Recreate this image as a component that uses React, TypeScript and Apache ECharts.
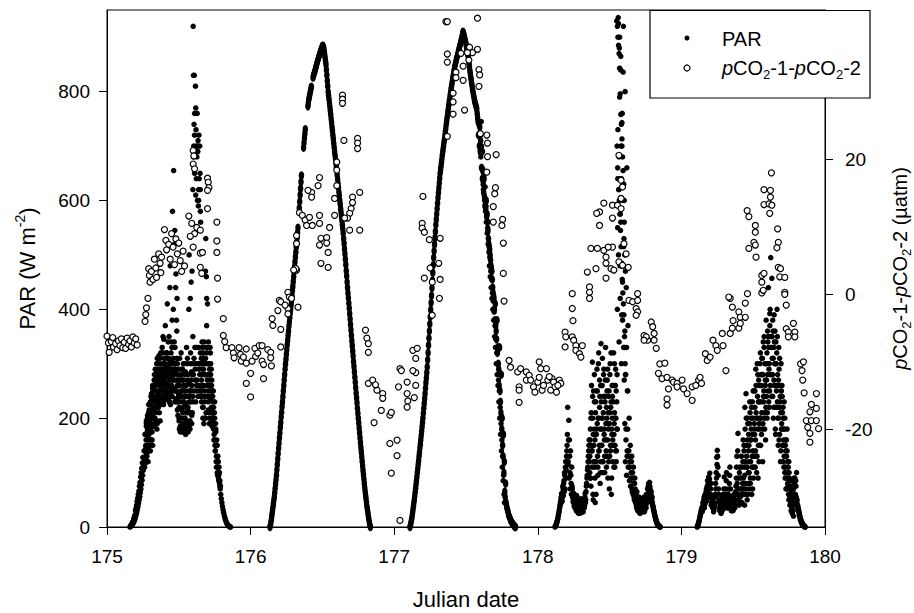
import React, { useEffect, useRef } from 'react';
import * as echarts from 'echarts';

const FONT = '"Liberation Sans", Arial, Helvetica, sans-serif';

const xTicks = [175, 176, 177, 178, 179, 180];
const parTicks = [0, 200, 400, 600, 800];
const pco2Ticks = [-20, 0, 20];

// PAR samples on regular time grids (start day, step in days); null = no reading (gap in record)
const par175aStart = 175.16; const par175aStep = 0.004;
const par175a = [
  0,1,2,3,5,6,8,10,13,16,20,24,28,33,38,44,50,56,63,70,78,86,95,104,112,120,
  140,118,160,135,175,150,195,170,210,185,225,160,235,200,250,215,270,230,
  290,220,265,180,300,245,275,210,310,260,
  290,235,330,270,250,345,300,240,285,320,260,410,295,235,350,275,480,305,250,330,580,270,
  655,340,545,300,465,380,420,260,
  230,290,180,270,200,320,175,250,210,300,185,240,280,170,260,195,310,220,180,500,250,420,190,285,470,230,
  920,700,830,330,810,730,260,760,690,590,720,300,650,560,
  310,250,330,200,290,340,230,280,530,460,320,410,250,300,190,270,320,215,260,185,240,
  250,180,210,150,190,120,160,100,130,90,110,80,70,
  60,52,45,38,32,27,22,18,14,11,8,6,4,3,2,1,0,0
];
const par175bStart = 175.262; const par175bStep = 0.004;
const par175b = [
  110,170,130,195,145,180,120,210,160,190,140,225,175,205,150,240,185,220,
  200,260,235,300,190,280,225,315,250,195,
  320,250,280,230,350,265,300,245,370,275,235,310,260,340,290,230,440,270,320,250,380,300,
  400,280,520,330,440,250,360,300,270,
  260,200,310,175,240,290,185,270,220,175,300,200,250,180,330,210,270,175,400,240,195,300,450,260,210,620,
  830,740,650,290,770,700,680,600,710,330,640,280,580,250,
  280,340,220,310,260,300,200,470,330,420,280,240,340,210,290,250,300,200,270,210,230,
  200,160,230,140,180,110,150,95,120,85,100,75
];
const par175cStart = 175.166; const par175cStep = 0.004;
const par175c = [
  3,4,6,9,11,15,18,22,30,34,40,47,53,60,66,75,82,92,100,108,118,128,110,140,125,
  170,145,190,130,205,160,180,215,150,230,190,245,175,260,220,200,280,240,
  250,210,285,230,270,300,240,265,225,290,
  260,300,240,280,225,310,270,250,295,235,320,265,245,300,280,230,290,260,340,250,285,310,
  270,300,230,290,250,310,215,280,240,
  195,230,270,185,250,215,290,175,260,230,200,285,180,240,300,210,190,265,230,180,320,250,205,280,350,
  680,310,720,270,610,330,250,690,300,620,260,700,320,240,
  230,300,260,320,190,280,240,310,210,370,260,300,230,280,200,330,240,290,210,250,200,
  220,170,200,140,175,130,150,110,120,95,100,85,75
];
const par175dStart = 175.27; const par175dStep = 0.004;
const par175d = [
  150,185,120,200,165,225,140,210,180,240,200,160,255,215,235,190,270,
  230,275,195,310,250,220,290,260,235,280,
  240,290,255,320,230,275,300,250,265,235,290,280,240,310,255,275,225,300,260,240,290,255,
  300,250,285,235,270,230,260,205,245,
  220,260,185,240,280,200,230,190,270,250,175,225,260,195,240,215,280,185,250,230,210,270,190,300,240,
  280,250,760,300,230,640,270,700,240,600,290,250,620,300,
  270,240,290,220,310,250,280,200,300,240,270,330,215,260,300,235,280,220,250,195,210,
  180,160,190
];
const par176Start = 176.135; const par176Step = 0.003;
const par176 = [
  0,3,8,13,19,25,31,37,43,49,55,63,71,79,87,95,105,115,125,135,145,
  154,164,173,183,192,202,211,221,230,240,250,260,270,280,290,
  299,308,317,326,335,343,352,360,369,377,385,393,400,408,416,
  425,434,442,451,460,469,478,487,496,505,514,523,532,541,550,
  null,null,586,598,610,622,634,646,null,null,null,null,697,706,715,
  723,731,null,null,null,null,null,773,779,785,789,793,797,801,805,
  809,null,null,null,826,829,832,834,837,840,843,846,849,852,855,
  858,860,863,865,868,870,873,875,878,880,882,884,884,882,880,
  874,868,862,856,850,840,830,820,810,800,793,786,779,772,765,
  758,750,743,735,728,720,713,705,698,690,683,676,669,662,655,
  647,639,631,623,615,608,600,593,585,578,570,563,555,548,540,
  530,521,511,502,492,482,471,461,450,440,430,421,411,402,392,
  382,372,362,352,342,333,323,314,304,295,285,275,266,256,246,
  237,228,218,209,200,191,182,173,164,155,146,138,129,121,112,
  104,96,88,80,72,65,58,52,45,38,33,28,22,17,12,7,3,0
];
const par177Start = 177.11; const par177Step = 0.003;
const par177 = [
  0,3,7,11,15,20,26,32,38,44,50,57,64,71,78,85,92,100,107,115,122,
  130,137,145,152,160,168,176,184,192,200,209,218,227,236,245,
  255,265,274,284,294,307,320,334,347,360,373,386,399,412,425,
  439,453,467,481,495,507,519,531,543,555,565,575,585,595,605,
  614,623,632,641,650,657,663,670,676,683,689,695,701,707,713,
  719,726,732,739,745,751,757,763,769,775,781,786,792,797,803,
  808,813,818,823,828,832,837,841,846,850,853,856,860,863,866,
  869,872,876,879,882,885,888,892,895,898,902,906,910,908,905,
  902,898,895,891,888,883,879,874,870,865,859,852,846,839,833,
  827,822,816,811,805,801,796,792,787,783,780,777,774,771,768,
  760,752,745,720,740,700,735,690,710,690,660,690,640,655,630,
  615,640,605,590,600,585,600,570,575,560,545,530,520,515,510,
  500,490,480,475,470,455,440,430,425,420,400,380,410,370,360,
  345,380,320,330,300,290,260,330,250,230,210,280,180,200,150,
  130,170,100,120,65,55,80,45,40,35,32,30,26,22,20,
  18,16,14,12,10,9,8,6,5,4,3,2,1,0,0
];
const par177bStart = 177.6; const par177bStep = 0.003;
const par177b = [
  720,680,745,700,660,690,640,620,650,610,
  600,625,580,590,560,575,540,550,520,530,
  505,480,495,460,470,440,455,420,430,400,
  415,380,395,350,370,330,345,300,320,280,
  300,260,270,230,250,200,220,170,190,140,
  160,110,130,85,95,60,45
];
const par178aStart = 178.12; const par178aStep = 0.004;
const par178a = [
  0,2,5,8,12,16,22,28,35,42,
  50,45,60,55,70,80,65,95,110,90,
  130,150,220,120,196,160,100,140,80,110,
  70,60,45,55,40,35,50,30,45,28,
  40,25,35,30,48,26,38,32,50,28,
  42,35,55,45,65,80,95,110,130,150,
  120,160,90,210,140,303,60,250,180,110,
  45,230,170,290,130,200,320,150,240,100,
  337,180,260,120,210,290,160,230,330,140,
  200,270,90,180,250,130,300,220,60,170,
  240,150,320,190,110,260,200,140,280,550,
  936,620,880,480,840,700,390,760,600,920,
  530,330,800,280,440,660,250,370,130,200,
  110,150,90,120,70,100,60,80,50,90,
  45,60,35,50,30,40,28,45,25,35,
  30,45,28,40,35,55,30,50,40,60,
  45,70,55,80,65,75,50,60,45,55,
  40,35,30,25,20,16,12,9,6,4,
  3,2,1,0
];
const par178bStart = 178.362; const par178bStep = 0.004;
const par178b = [
  100,180,75,260,140,200,50,150,230,90,
  170,60,250,190,110,300,140,220,80,260,
  150,200,310,120,240,180,100,270,160,220,
  130,290,190,240,70,210,150,320,180,260,
  120,230,170,300,200,140,250,180,400,730,
  925,680,900,575,865,640,743,450,836,515,
  600,360,280,180,330,140,250
];
const par178cStart = 178.122; const par178cStep = 0.004;
const par178c = [
  1,3,6,10,14,20,26,32,38,45,
  55,62,48,75,58,85,100,70,120,105,
  140,170,115,160,90,130,70,95,60,75,
  55,48,62,38,52,42,35,58,32,46,
  30,44,38,26,52,34,42,30,45,36,
  50,40,62,50,75,90,105,120,140,160,
  130,90,200,150,110,240,170,120,280,160,
  210,120,180,250,95,200,140,270,180,120,
  230,150,200,100,280,170,130,240,190,110,
  250,160,210,120,190,280,140,230,90,200,
  160,260,110,210,150,290,120,230,180,640,
  500,340,790,420,560,300,700,380,480,330,
  270,190,120,160,95,130,180,110,140,85,
  120,75,100,130,65,90,110,55,80,70,
  55,40,65,32,48,38,55,30,42,28,
  38,30,50,35,45,28,42,55,35,48,
  60,50,75,62,82,70,58,65,50,45,
  38,32,28,22,18,14,10,7,5,3,
  2,1,0
];
const par178SpikeStart = 178.55; const par178SpikeStep = 0.002;
const par178Spike = [
  930,700,920,660,900,640,885,620,870,600,843,575,796,545,758,515,
  740,485,713,455,680,430,655,410,630,390,560,350,500,300,470
];
const par179aStart = 179.11; const par179aStep = 0.004;
const par179a = [
  0,3,6,10,15,20,25,30,35,30,
  45,38,55,42,60,50,70,55,85,65,
  92,75,99,60,80,45,50,35,40,30,
  45,60,80,100,128,141,110,70,50,35,
  30,40,28,50,35,60,45,92,55,40,
  70,100,50,35,60,45,80,110,70,40,
  30,45,55,35,60,40,50,65,90,130,
  60,172,90,40,110,55,70,130,45,80,
  160,60,110,220,80,245,130,50,190,100,
  150,70,210,120,180,60,230,140,90,250,
  170,110,290,200,130,240,90,270,190,150,
  320,230,170,280,120,340,250,200,300,160,
  380,270,210,340,440,290,250,400,495,330,
  457,280,360,220,390,300,180,340,250,400,
  280,150,330,220,260,120,300,190,240,150,
  200,110,180,90,140,160,70,120,90,60,
  100,50,75,40,60,35,50,30,45,80,
  90,60,75,100,50,40,35,30,25,20,
  15,12,9,7,5,3,2,1,0
];
const par179bStart = 179.432; const par179bStep = 0.004;
const par179b = [
  90,150,40,120,70,200,110,160,60,140,
  100,190,80,160,220,130,70,200,110,180,
  250,140,210,100,300,180,230,120,260,200,
  150,280,210,310,190,240,350,180,270,220,
  300,200,360,250,330,220,392,280,350,240,
  310,380,200,330,260,360,170,300,220,350,
  200,270,160,310,230,140,250,180,210,120,
  160,230,100,150,70,130,180,80,110,50,
  90,40,70,30,55,25,40,20
];
const par179cStart = 179.112; const par179cStep = 0.004;
const par179c = [
  1,4,8,12,17,22,27,32,28,38,
  40,50,35,58,45,65,48,75,60,80,
  70,88,55,70,40,58,38,45,28,35,
  40,55,70,90,115,130,95,60,45,30,
  35,25,45,30,55,40,70,50,35,60,
  85,60,40,50,35,70,95,55,45,30,
  40,50,30,55,45,35,60,75,110,80,
  140,50,70,100,45,90,60,110,70,120,
  70,140,95,180,60,150,110,200,80,170,
  120,230,90,160,200,110,170,250,130,190,
  220,160,260,130,200,280,150,230,180,300,
  200,260,310,180,280,230,330,210,260,300,
  240,320,280,350,230,300,370,260,330,280,
  350,240,310,270,340,220,300,260,320,230,
  260,200,290,170,240,210,180,260,150,220,
  180,130,200,110,160,90,140,100,75,120,
  70,55,85,45,65,40,55,70,90,60,
  75,85,55,45,38,32,28,22,18,14,
  11,8,6,4,3,2,1,0
];

// pCO2-1 - pCO2-2 (µatm), [julian date, value]
const pco2Day175 = [
  [175.00,-6.2],[175.01,-7.2],[175.015,-8.6],[175.03,-7.0],[175.04,-6.4],[175.045,-7.8],[175.06,-7.3],[175.07,-8.2],
  [175.08,-6.9],[175.09,-7.6],[175.10,-6.6],[175.11,-7.9],[175.12,-7.1],[175.13,-8.0],[175.14,-6.5],[175.15,-7.4],
  [175.16,-6.9],[175.17,-7.8],[175.18,-6.3],[175.19,-7.2],[175.20,-6.6],[175.21,-7.5],
  [175.265,-4.0],[175.27,-3.0],[175.275,-2.0],[175.285,-0.6],[175.29,3.8],[175.295,2.8],[175.30,1.8],[175.31,3.4],
  [175.32,2.2],[175.33,5.2],[175.34,3.9],[175.345,2.5],[175.36,6.0],[175.37,4.6],[175.375,3.2],[175.38,5.5],
  [175.40,9.6],[175.41,8.0],[175.415,6.6],[175.43,7.4],[175.44,5.2],[175.45,9.0],[175.46,7.0],[175.47,4.4],
  [175.48,8.2],[175.49,6.0],[175.50,7.6],[175.51,5.0],[175.52,3.4],[175.53,6.4],[175.54,4.2],
  [175.59,10.5],[175.60,7.0],[175.61,9.0],[175.625,9.9],[175.65,9.5],[175.65,6.1],[175.65,4.0],[175.66,3.1],
  [175.665,6.2],[175.60,21.3],[175.605,20.5],[175.60,19.3],[175.61,18.6],[175.57,11.6],[175.58,8.6],
  [175.70,17.2],[175.705,16.6],[175.71,15.8],[175.70,15.4],[175.70,12.7],[175.765,10.7],[175.765,7.9],
  [175.765,6.2],[175.77,2.4],[175.77,-0.7],[175.81,-3.6],
  [175.81,-6.1],[175.82,-7.0],[175.83,-7.9],[175.87,-7.9],[175.88,-8.7],[175.885,-9.4],[175.92,-7.9],
  [175.93,-8.9],[175.935,-9.9],[175.97,-8.1],[175.97,-10.2],[175.97,-13.2],[175.95,-9.3]
];
const pco2Day176 = [
  [176.01,-9.9],[176.03,-8.0],[176.035,-9.2],[176.06,-7.6],[176.08,-7.6],[176.08,-9.9],[176.09,-10.4],
  [176.12,-8.2],[176.14,-8.6],[176.14,-9.4],[176.145,-10.6],[176.0,-11.7],[176.0,-15.2],[176.09,-12.5],[176.05,-8.7],
  [176.15,-3.6],[176.155,-4.6],[176.21,-5.2],[176.21,-7.8],[176.2,-0.9],[176.21,-1.1],[176.26,0.3],[176.27,-0.4],
  [176.26,-2.1],[176.26,-2.9],[176.285,-0.6],[176.33,-1.9],[176.32,3.6],[176.315,3.8],[176.19,-2.4],[176.24,-1.6],
  [176.32,8.7],[176.32,7.5],[176.3,3.6],
  [176.34,12.1],[176.36,11.7],[176.38,11.0],[176.39,10.2],[176.41,11.4],[176.43,10.2],[176.48,11.7],[176.48,10.5],
  [176.49,8.3],[176.48,7.3],[176.53,8.4],[176.53,7.6],[176.54,6.2],[176.49,4.6],[176.54,4.0],[176.55,9.9],
  [176.585,11.7],[176.585,14.2],[176.6,16.1],[176.425,15.1],[176.425,14.4],[176.47,16.1],[176.64,29.5],[176.64,28.9],
  [176.64,28.3],[176.65,22.8],[176.745,23.1],[176.745,22.4],[176.745,21.6],[176.6,19.6],[176.6,18.4],[176.71,14.4],
  [176.71,13.6],[176.70,12.7],[176.69,12.0],[176.675,11.3],[176.655,11.3],[176.76,15.1],[176.69,9.5],[176.76,9.5],
  [176.48,17.3],[176.4,15.4],
  [176.80,-5.3],[176.81,-6.5],[176.82,-7.3],[176.82,-8.6],[176.82,-13.2],[176.85,-12.7],[176.88,-14.2],[176.87,-13.4],
  [176.92,-14.7],[176.92,-15.4],[176.91,-17.2],[176.86,-19.0],[176.97,-17.9],[176.98,-17.5],[176.97,-22.1],[176.98,-26.5]
];
const pco2Day177 = [
  [177.02,-21.6],[177.02,-23.9],[177.04,-33.5],[177.03,-13.7],[177.04,-11.0],[177.05,-11.3],[177.09,-13.0],
  [177.09,-14.7],[177.095,-15.8],[177.09,-16.7],[177.15,-11.6],[177.15,-13.5],[177.14,-15.3],[177.13,-8.3],
  [177.16,-8.0],[177.15,-9.5],[177.13,-11.3],
  [177.2,14.5],[177.195,10.5],[177.195,9.8],[177.21,9.2],[177.245,8.1],[177.32,8.3],[177.25,3.9],[177.21,2.4],
  [177.265,1.8],[177.31,4.6],[177.32,2.2],[177.315,-0.6],[177.265,-3.1],[177.37,23.4],[177.41,29.8],[177.41,28.5],
  [177.41,26.7],[177.43,32.9],[177.43,32.1],[177.37,35.6],[177.37,34.4],[177.36,40.4],[177.37,40.4],[177.58,40.9],
  [177.49,27.3],[177.465,35.7],[177.48,33.8],[177.48,31.7],[177.525,36.6],[177.545,35.8],[177.52,34.7],[177.51,35.8],
  [177.58,36.3],[177.59,33.3],[177.595,32.5],[177.59,30.8],[177.6,23.8],[177.645,23.6],[177.65,22.4],[177.65,20.4],
  [177.71,20.7],[177.645,18.1],[177.705,15.8],[177.70,14.9],[177.69,13.0],[177.69,10.7],[177.755,11.1],[177.75,10.2],
  [177.76,7.6],[177.76,3.1],[177.765,-1.0],
  [177.8,-9.8],[177.81,-10.8],[177.86,-11.5],[177.87,-13.7],[177.87,-14.2],[177.87,-16.0],[177.88,-11.0],[177.92,-11.5],
  [177.92,-12.7],[177.94,-12.0],[177.95,-12.7],[177.97,-13.7],[177.98,-14.5]
];
const pco2Day178 = [
  [178.0,-13.0],[178.01,-10.0],[178.01,-12.3],[178.03,-14.2],[178.04,-13.5],[178.06,-11.0],[178.07,-12.7],[178.09,-14.2],
  [178.1,-12.5],[178.11,-13.0],[178.12,-13.7],[178.13,-14.5],[178.15,-12.7],[178.16,-13.2],[178.02,-11.0],[178.08,-12.2],
  [178.14,-13.5],
  [178.19,-5.6],[178.195,-6.3],[178.19,-7.8],[178.24,-6.3],[178.25,-6.8],[178.265,-7.6],[178.265,-8.3],[178.29,-8.8],
  [178.31,-7.6],[178.30,-9.3],[178.24,0.1],[178.24,-2.1],[178.245,-3.9],
  [178.37,6.8],[178.415,6.8],[178.46,6.5],[178.52,7.0],[178.405,3.8],[178.475,5.5],[178.475,4.6],[178.475,2.4],
  [178.51,3.8],[178.53,3.6],[178.565,4.8],[178.59,4.3],[178.63,4.0],[178.43,12.2],[178.43,10.2],[178.46,13.5],
  [178.52,13.2],[178.52,11.3],[178.555,13.2],[178.58,12.7],[178.58,14.2],[178.59,15.9],[178.58,16.9],[178.565,20.6],
  [178.36,1.1],[178.36,0.3],[178.36,-0.6],[178.345,3.3],[178.6,7.5],[178.615,6.0],[178.41,12.0],[178.49,7.0],
  [178.635,-0.9],[178.66,-1.1],[178.695,0.1],[178.695,-0.9],[178.685,-2.1],[178.695,-2.6],[178.685,-3.1],[178.74,-6.1],
  [178.765,-6.8],[178.79,-4.1],[178.8,-4.8],[178.81,-5.8],[178.81,-6.8],[178.825,-8.0],[178.755,-6.3],[178.74,-6.8],
  [178.85,-10.3],[178.885,-10.2],[178.84,-11.7],[178.865,-12.5],[178.9,-12.3],[178.91,-14.0],[178.9,-15.5],[178.9,-16.4],
  [178.935,-12.7],[178.945,-13.0],[178.97,-13.2],[178.97,-13.7]
];
const pco2Day179 = [
  [179.005,-12.7],[179.015,-14.0],[179.04,-14.7],[179.075,-15.7],[179.075,-13.7],[179.1,-13.5],[179.12,-12.7],
  [179.13,-12.3],[179.14,-13.2],
  [179.167,-8.8],[179.18,-9.8],[179.2,-9.3],[179.22,-6.8],[179.24,-7.6],[179.25,-8.3],[179.285,-5.8],[179.29,-7.6],
  [179.31,-11.3],[179.34,-5.8],[179.355,-5.0],[179.36,-3.9],[179.4,-5.0],[179.4,-2.6],[179.41,-3.4],[179.41,-4.3],
  [179.34,-0.6],[179.355,-1.9],[179.33,-0.4],[179.445,-1.3],[179.445,-3.4],[179.46,0.1],
  [179.458,12.4],[179.47,11.5],[179.515,10.2],[179.515,9.2],[179.505,7.7],[179.515,7.3],[179.47,6.8],[179.52,5.5],
  [179.575,15.5],[179.62,15.4],[179.62,14.4],[179.575,13.3],[179.61,13.4],[179.63,13.2],[179.615,12.0],[179.67,9.7],
  [179.675,7.7],[179.665,6.9],[179.675,4.0],[179.69,3.8],[179.685,2.6],[179.56,2.8],[179.56,1.8],[179.56,0.2],
  [179.72,0.3],[179.72,0],[179.73,-1.6],[179.627,18.0],[179.575,3.1],[179.57,0.6],[179.72,2.5],
  [179.73,-5.1],[179.745,-5.6],[179.78,-4.3],[179.79,-5.6],[179.745,-6.3],[179.79,-6.3],[179.83,-10.3],[179.85,-10.0],
  [179.84,-11.3],[179.845,-12.7],[179.855,-14.6],[179.94,-14.7],[179.905,-16.3],[179.94,-16.9],[179.895,-17.4],
  [179.87,-18.7],[179.905,-18.7],[179.94,-18.7],[179.88,-19.7],[179.955,-19.9],[179.895,-20.6],[179.895,-21.9]
];

function toPoints(start: number, step: number, values: (number | null)[]) {
  const out: number[][] = [];
  values.forEach((v, i) => {
    if (v !== null) out.push([Math.round((start + i * step) * 10000) / 10000, v]);
  });
  return out;
}

const txt = (size: number, extra: any = {}) => ({ fontSize: size, fontFamily: FONT, color: '#000', ...extra });

export default function App() {
  const ref = useRef<HTMLDivElement>(null);
  useEffect(() => {
    if (!ref.current) return;
    const chart = echarts.init(ref.current, null, { renderer: 'svg' });
    const parNoisy = [
      ...toPoints(par175aStart, par175aStep, par175a),
      ...toPoints(par175bStart, par175bStep, par175b),
      ...toPoints(par175cStart, par175cStep, par175c),
      ...toPoints(par175dStart, par175dStep, par175d),
      ...toPoints(par177bStart, par177bStep, par177b),
      ...toPoints(par178aStart, par178aStep, par178a),
      ...toPoints(par178bStart, par178bStep, par178b),
      ...toPoints(par178cStart, par178cStep, par178c),
      ...toPoints(par178SpikeStart, par178SpikeStep, par178Spike),
      ...toPoints(par179aStart, par179aStep, par179a),
      ...toPoints(par179bStart, par179bStep, par179b),
      ...toPoints(par179cStart, par179cStep, par179c),
    ];
    const parSmooth = [
      ...toPoints(par176Start, par176Step, par176),
      ...toPoints(par177Start, par177Step, par177),
    ];
    const pco2Data = [...pco2Day175, ...pco2Day176, ...pco2Day177, ...pco2Day178, ...pco2Day179];

    const richSub = {
      n: txt(20, { lineHeight: 26 }),
      i: txt(20, { lineHeight: 26, fontStyle: 'italic' }),
      s: txt(13, { lineHeight: 12, verticalAlign: 'bottom' }),
    };

    chart.setOption({
      animation: false,
      backgroundColor: '#fff',
      grid: {
        left: 107, top: 10, width: 718, height: 517,
        show: true, borderColor: '#000', borderWidth: 1, backgroundColor: 'transparent',
        containLabel: false, outerBoundsMode: 'none',
      },
      xAxis: {
        type: 'value', min: 175, max: 180, interval: 1,
        name: 'Julian date', nameLocation: 'middle', nameGap: 61,
        nameTextStyle: txt(22, { lineHeight: 22 }),
        axisLine: { show: true, lineStyle: { color: '#000', width: 1 } },
        axisTick: { show: true, inside: false, length: 8, lineStyle: { color: '#000' }, customValues: xTicks },
        axisLabel: { ...txt(19), margin: 20, customValues: xTicks },
        splitLine: { show: false },
      },
      yAxis: [
        {
          type: 'value', min: 0, max: 950, position: 'left',
          name: '{n|PAR (W m}{sup|-2}{n|)}', nameLocation: 'middle', nameGap: 66, nameRotate: 90,
          nameTextStyle: {
            rich: {
              n: txt(22, { lineHeight: 28 }),
              sup: txt(14, { lineHeight: 14, verticalAlign: 'top' }),
            },
          },
          axisLine: { show: true, lineStyle: { color: '#000', width: 1 } },
          axisTick: { show: true, inside: false, length: 8, lineStyle: { color: '#000' }, customValues: parTicks },
          axisLabel: { ...txt(19), margin: 17, customValues: parTicks },
          splitLine: { show: false },
        },
        {
          type: 'value', min: -34.47, max: 42.12, position: 'right',
          name: '{i|p}{n|CO}{s|2}{n|-1-}{i|p}{n|CO}{s|2}{n|-2 (µatm)}',
          nameLocation: 'middle', nameGap: 62, nameRotate: 90,
          nameTextStyle: { rich: richSub },
          axisLine: { show: true, lineStyle: { color: '#000', width: 1 } },
          axisTick: { show: true, inside: false, length: 8, lineStyle: { color: '#000' }, customValues: pco2Ticks },
          axisLabel: { ...txt(19), margin: 20, customValues: pco2Ticks },
          splitLine: { show: false },
        },
      ],
      series: [
        {
          type: 'scatter', name: 'PAR', data: parNoisy, xAxisIndex: 0, yAxisIndex: 0,
          symbol: 'circle', symbolSize: 5.5, large: false, silent: true,
          itemStyle: { color: '#000', opacity: 1 }, z: 2,
        },
        {
          type: 'scatter', name: 'PAR smooth', data: parSmooth, xAxisIndex: 0, yAxisIndex: 0,
          symbol: 'circle', symbolSize: [5.5, 8.5], large: false, silent: true,
          itemStyle: { color: '#000', opacity: 1 }, z: 2,
        },
        {
          type: 'scatter', name: 'pCO2', data: pco2Data, xAxisIndex: 0, yAxisIndex: 1,
          symbol: 'circle', symbolSize: 6, large: false, silent: true,
          itemStyle: { color: '#fff', borderColor: '#000', borderWidth: 1.2, opacity: 1 }, z: 3,
        },
      ],
      graphic: [
        {
          type: 'rect', z: 100,
          shape: { x: 650, y: 10.5, width: 220, height: 87.5 },
          style: { fill: '#fff', stroke: '#000', lineWidth: 1.2 },
        },
        {
          type: 'circle', z: 101,
          shape: { cx: 687, cy: 38, r: 2.5 },
          style: { fill: '#000' },
        },
        {
          type: 'text', z: 101, x: 722, y: 39,
          style: { text: 'PAR', font: `20px ${FONT}`, fill: '#000', align: 'left', verticalAlign: 'middle' },
        },
        {
          type: 'circle', z: 101,
          shape: { cx: 687, cy: 68, r: 3 },
          style: { fill: '#fff', stroke: '#000', lineWidth: 1.2 },
        },
        {
          type: 'text', z: 101, x: 722, y: 68,
          style: {
            text: '{i|p}{n|CO}{s|2}{n|-1-}{i|p}{n|CO}{s|2}{n|-2}',
            rich: richSub, align: 'left', verticalAlign: 'middle', fill: '#000',
          },
        },
      ],
    });
    return () => chart.dispose();
  }, []);
  return (
    <div
      ref={ref}
      style={{ position: 'fixed', left: 0, top: 0, width: 914, height: 613, background: '#fff' }}
    />
  );
}
